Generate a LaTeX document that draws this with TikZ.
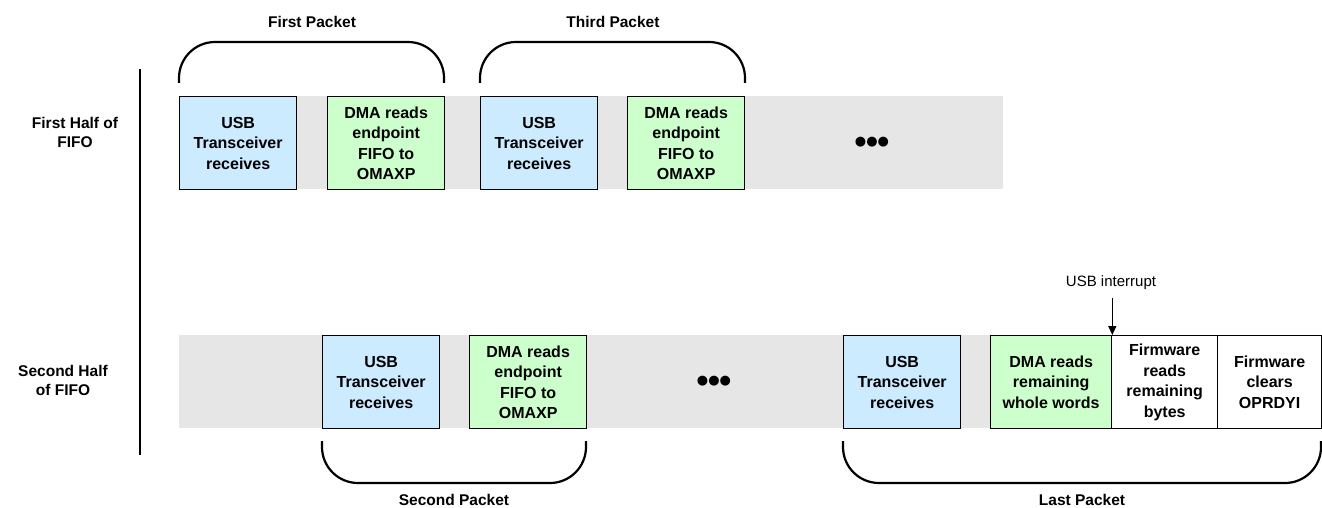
\documentclass[tikz,border=0pt]{standalone}
\usepackage{fontspec}
\setmainfont{Liberation Sans}
\newfontfamily\dejavu{DejaVu Sans}
\usetikzlibrary{arrows.meta}
\definecolor{bandgray}{HTML}{E6E6E6}
\definecolor{usbblue}{HTML}{CCEBFF}
\definecolor{dmagreen}{HTML}{CCFFCC}
\tikzset{
  x=1pt, y=-1pt,
  box/.style={draw=black, line width=1.3pt, minimum height=93pt, inner sep=0pt,
    font=\fontsize{16}{20.5}\selectfont\bfseries, align=center, anchor=north west},
  usbbox/.style={box, fill=usbblue, minimum width=117pt},
  dmabox/.style={box, fill=dmagreen, minimum width=117pt},
  band/.style={fill=bandgray, draw=none},
  brace/.style={draw=black, line width=2.2pt, rounded corners=36pt},
  bracelabel/.style={font=\fontsize{15.5}{18}\selectfont\bfseries},
  rowlabel/.style={font=\fontsize{15.5}{19}\selectfont\bfseries, align=center},
  dots/.style={font=\fontsize{13}{13}\dejavu},
}
\begin{document}
\begin{tikzpicture}
\useasboundingbox (0,0) rectangle (1322,508);
% bands
\fill[band] (179,96) rectangle (1003,189);
\fill[band] (179,335) rectangle (1321,428);
% left axis
\draw[line width=1.3pt] (140,69) -- (140,455);
\node[rowlabel] (r1) at (75,132) {First Half of\\FIFO};
\node[rowlabel] (r2) at (63,380) {Second Half\\of FIFO};
% top row
\node[usbbox] (u1) at (179,96) {USB\\Transceiver\\receives};
\node[dmabox] (d1) at (327,96) {DMA reads\\endpoint\\FIFO to\\OMAXP};
\node[usbbox] (u3) at (480,96) {USB\\Transceiver\\receives};
\node[dmabox] (d3) at (627,96) {DMA reads\\endpoint\\FIFO to\\OMAXP};
\node[dots] (dt1) at (872,142) {●●●};
% bottom row
\node[usbbox] (u2) at (322,335) {USB\\Transceiver\\receives};
\node[dmabox] (d2) at (469,335) {DMA reads\\endpoint\\FIFO to\\OMAXP};
\node[dots] (dt2) at (714,381) {●●●};
\node[usbbox] (u4) at (843,335) {USB\\Transceiver\\receives};
\node[box, fill=dmagreen, minimum width=121pt] (d4) at (990,335) {DMA reads\\remaining\\whole words};
\node[box, fill=white, minimum width=106pt] (f1) at (1111,335) {Firmware\\reads\\remaining\\bytes};
\node[box, fill=white, minimum width=104pt] (f2) at (1217,335) {Firmware\\clears\\OPRDYI};
% braces
\draw[brace] (179,83) -- (179,42) -- (444,42) -- (444,83);
\node[bracelabel] (l1) at (312,22) {First Packet};
\draw[brace] (480,83) -- (480,42) -- (745,42) -- (745,83);
\node[bracelabel] (l3) at (613,22) {Third Packet};
\draw[brace] (322,441) -- (322,483) -- (586,483) -- (586,441);
\node[bracelabel] (l2) at (454,500) {Second Packet};
\draw[brace] (843,441) -- (843,483) -- (1321,483) -- (1321,441);
\node[bracelabel] (l4) at (1082,500) {Last Packet};
% interrupt
\node[font=\fontsize{15}{18}\selectfont] (ui) at (1111,283) {USB interrupt};
\draw[line width=1.3pt, -{Triangle[length=9pt,width=8pt]}] (ui.south -| d4.north east) ++(0,4) -- (d4.north east);
\end{tikzpicture}
\end{document}
